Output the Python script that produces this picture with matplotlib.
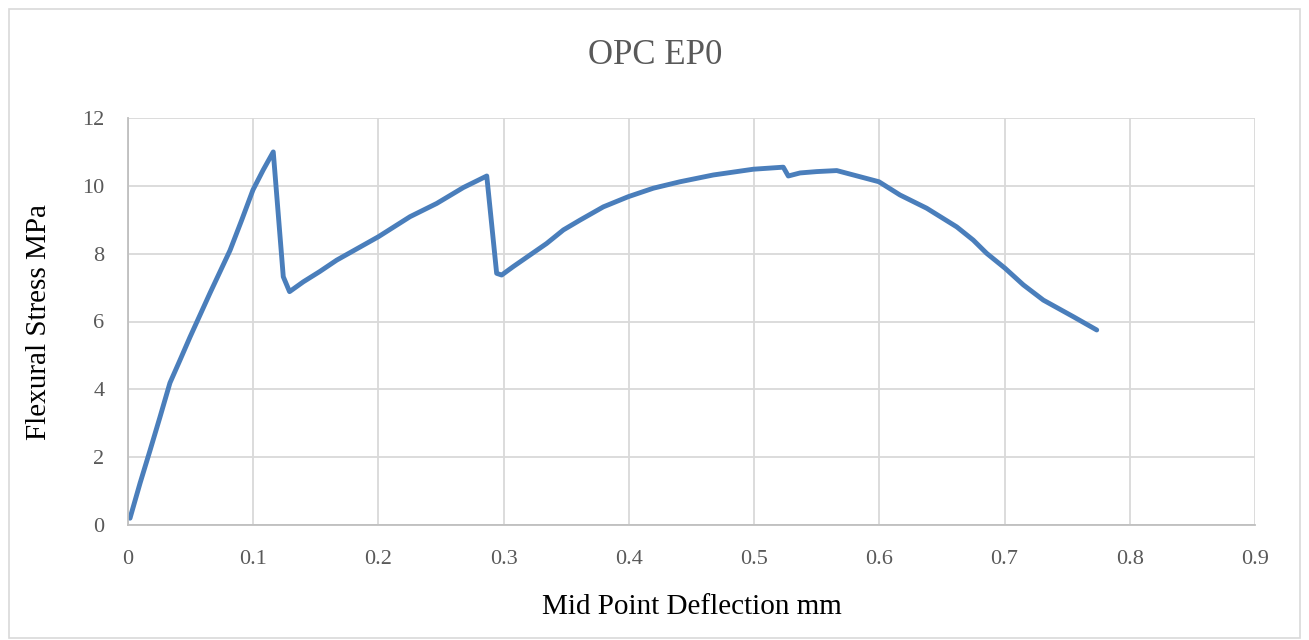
import matplotlib
matplotlib.use("Agg")
import matplotlib.pyplot as plt
from matplotlib.patches import Rectangle

title = "OPC EP0"
x_label = "Mid Point Deflection mm"
y_label = "Flexural Stress MPa"

deflection = [0.0016, 0.0096, 0.0176, 0.0256, 0.0335, 0.0415, 0.0495, 0.0575,
              0.0655, 0.0735, 0.0815, 0.0908, 0.0998, 0.108, 0.116,
              0.124, 0.129, 0.14, 0.153, 0.1667, 0.2, 0.2252, 0.2465, 0.2678, 0.2865,
              0.2944, 0.2984, 0.3077, 0.321, 0.3343, 0.3477, 0.361, 0.3796, 0.3995,
              0.4195, 0.4408, 0.4674, 0.4994,
              0.5233, 0.5273, 0.5367, 0.55, 0.566, 0.5997, 0.6165, 0.6378, 0.6618,
              0.675, 0.6857, 0.7004, 0.715, 0.731, 0.755, 0.7736]
stress = [0.2, 1.23, 2.2, 3.19, 4.19, 4.86, 5.54, 6.19,
          6.84, 7.47, 8.1, 8.99, 9.88, 10.47, 11.0,
          7.32, 6.88, 7.17, 7.47, 7.81, 8.5, 9.09, 9.48, 9.95, 10.29,
          7.42, 7.37, 7.62, 7.96, 8.3, 8.7, 8.99, 9.38, 9.68,
          9.93, 10.12, 10.32, 10.49,
          10.55, 10.29, 10.38, 10.42, 10.45, 10.12, 9.73, 9.34, 8.79,
          8.40, 8.01, 7.57, 7.08, 6.63, 6.14, 5.75]

x_ticks = [0, 0.1, 0.2, 0.3, 0.4, 0.5, 0.6, 0.7, 0.8, 0.9]
y_ticks = [0, 2, 4, 6, 8, 10, 12]

plt.rcParams['font.family'] = ['Liberation Serif', 'DejaVu Serif']
text_color = '#595959'
grid_color = '#D9D9D9'

fig = plt.figure(figsize=(13.09, 6.4), dpi=100)
fig.patches.append(Rectangle((9/1309, 2/640), 1291/1309, 629/640, transform=fig.transFigure,
                             fill=False, edgecolor='#D9D9D9', linewidth=1.2))
ax = fig.add_axes([128/1309, 115/640, 1127/1309, 407/640])
ax.plot(deflection, stress, color='#4A7EBB', linewidth=3.5, solid_joinstyle='round', solid_capstyle='round')
ax.set_xlim(0, 0.9)
ax.set_ylim(0, 12)
ax.set_xticks(x_ticks)
ax.set_xticklabels([f"{t:g}" for t in x_ticks])
ax.set_yticks(y_ticks)
ax.grid(True, color=grid_color, linewidth=1.3)
ax.set_axisbelow(True)
for s in ['top', 'right']:
    ax.spines[s].set_visible(False)
for s in ['left', 'bottom']:
    ax.spines[s].set_color('#BFBFBF')
    ax.spines[s].set_linewidth(1.3)
ax.tick_params(length=0, labelsize=16, colors=text_color)
ax.tick_params(axis='x', pad=18)
ax.tick_params(axis='y', pad=17)
ax.set_xlabel(x_label, fontsize=21, color='black', labelpad=18)
ax.set_ylabel(y_label, fontsize=21, color='black', labelpad=22)
fig.text(655/1309, 1 - 55/640, title, ha='center', va='center', fontsize=25, color=text_color)
fig.savefig("out.png", dpi=100)
